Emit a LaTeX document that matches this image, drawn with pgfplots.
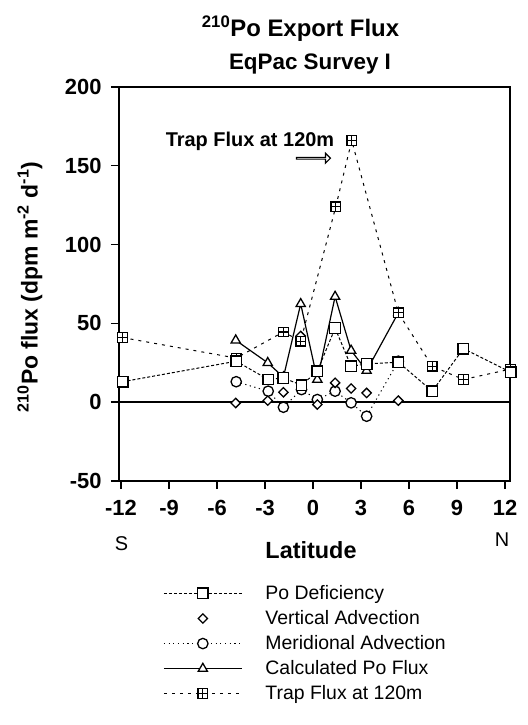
\documentclass[border=0pt]{standalone}
\usepackage{fontspec}
\setmainfont{Liberation Sans}
\usepackage{pgfplots}
\pgfplotsset{compat=1.18}
\usetikzlibrary{shapes.arrows}

% square with an inscribed cross, for the trap samples
\pgfdeclareplotmark{sqplus}{%
  \pgfpathrectangle{\pgfqpoint{-\pgfplotmarksize}{-\pgfplotmarksize}}{\pgfqpoint{2\pgfplotmarksize}{2\pgfplotmarksize}}%
  \pgfusepathqfillstroke
  \pgfpathmoveto{\pgfqpoint{-\pgfplotmarksize}{0pt}}\pgfpathlineto{\pgfqpoint{\pgfplotmarksize}{0pt}}%
  \pgfpathmoveto{\pgfqpoint{0pt}{-\pgfplotmarksize}}\pgfpathlineto{\pgfqpoint{0pt}{\pgfplotmarksize}}%
  \pgfusepathqstroke}

\newcommand{\fs}[1]{\fontsize{#1}{1.2\dimexpr#1pt\relax}\selectfont}

\pgfplotsset{
  widelegend/.style={legend image code/.code={\draw[mark repeat=2,mark phase=2,##1] plot coordinates {(0bp,0bp)(39bp,0bp)(78bp,0bp)};}},
  onemark/.style={legend image code/.code={\draw[##1] plot coordinates {(39bp,0bp)};}},
}

\begin{document}
\begin{tikzpicture}[x=1bp,y=1bp]
\begin{axis}[
  scale only axis, width=391bp, height=394bp,
  xmin=-12.125, xmax=12.31, ymin=-50, ymax=200,
  xtick={-12,-9,...,12}, ytick={-50,0,...,200},
  tick align=outside, xtick pos=bottom, ytick pos=left,
  major tick length=8bp,
  every tick/.style={black, line width=1.4bp},
  axis line style={line width=1.6bp},
  /pgf/number format/assume math mode=true,
  ticklabel style={font=\bfseries\fs{22}},
  xticklabel style={yshift=-8bp},
  yticklabel style={xshift=-6bp},
  clip=false,
  legend style={at={(0.105,-0.255)}, anchor=north west, draw=none, fill=none,
    font=\fs{19.5}, legend cell align=left, row sep=5.5bp,
    /tikz/every odd column/.append style={column sep=21bp}},
  widelegend,
]
% legend entries
\addlegendimage{black, line width=1bp, dash pattern=on 3bp off 2bp, mark=square*, mark size=5.3bp, mark options={solid, fill=white, line width=1.3bp}}
\addlegendentry{Po Deficiency}
\addlegendimage{only marks, onemark, black, mark=square*, mark size=3.3bp, mark options={rotate=45, fill=white, line width=1.3bp}}
\addlegendentry{Vertical Advection}
\addlegendimage{black, line width=1bp, dash pattern=on 1.2bp off 3.5bp, mark=*, mark size=5.2bp, mark options={solid, fill=white, line width=1.3bp}}
\addlegendentry{Meridional Advection}
\addlegendimage{black, line width=1.2bp, mark=triangle*, mark size=5.3bp, mark options={solid, fill=white, line width=1.3bp}}
\addlegendentry{Calculated Po Flux}
\addlegendimage{black, line width=1bp, dash pattern=on 3bp off 5bp, mark=sqplus, mark size=4.8bp, mark options={solid, fill=white, line width=1.2bp}}
\addlegendentry{Trap Flux at 120m}

% zero line
\addplot[forget plot, black, line width=1.4bp] coordinates {(-12.125,0) (12.31,0)};

% Meridional Advection
\addplot[forget plot, black, line width=1bp, dash pattern=on 1.2bp off 3.5bp, mark=*, mark size=5.2bp, mark options={solid, fill=white, line width=1.3bp}]
  coordinates {(-4.8,13) (-2.8,7) (-1.85,-3.2) (-0.72,8) (0.27,1.7) (1.38,7) (2.38,-0.4) (3.35,-8.9) (5.33,26)};

% Vertical Advection
\addplot[forget plot, only marks, black, mark=square*, mark size=3.3bp, mark options={rotate=45, fill=white, line width=1.3bp}]
  coordinates {(-4.83,-0.5) (-2.83,1) (-1.85,6.3) (-0.77,42) (0.27,-1.5) (1.38,12.3) (2.38,8.7) (3.35,5.9) (5.33,1)};

% Calculated Po Flux
\addplot[forget plot, black, line width=1.2bp, mark=triangle*, mark size=5.3bp, mark options={solid, fill=white, line width=1.3bp}]
  coordinates {(-4.83,39.3) (-2.83,25) (-1.85,15.9) (-0.77,62.4) (0.27,14.4) (1.38,67) (2.38,32.8) (3.35,20) (5.33,56.7)};

% Trap Flux at 120m
\addplot[forget plot, black, line width=1bp, dash pattern=on 3bp off 5bp, mark=sqplus, mark size=4.8bp, mark options={solid, fill=white, line width=1.2bp}]
  coordinates {(-11.9,41) (-4.8,28) (-1.85,44.6) (-0.77,38.7) (1.42,124) (2.42,166) (5.33,56.7) (7.45,22.8) (9.4,14.4) (12.35,21)};

% Po Deficiency
\addplot[forget plot, black, line width=1bp, dash pattern=on 3bp off 2bp, mark=square*, mark size=5.3bp, mark options={solid, fill=white, line width=1.3bp}]
  coordinates {(-11.9,13) (-4.8,26) (-2.8,14.4) (-1.85,15.4) (-0.72,10.8) (0.27,19.7) (1.38,47) (2.38,22.8) (3.35,24.3) (5.33,25.4) (7.45,7) (9.4,34) (12.35,19)};

% annotation of the trap peak
\node[font=\bfseries\fs{20}] at (axis cs:-3.94,165.3) {Trap Flux at 120m};
\node[single arrow, draw, line width=1.1bp, minimum height=34bp, minimum width=10bp,
  single arrow head extend=2.5bp, inner sep=0pt, fill=white] at (axis cs:0,154.8) {};
\end{axis}

% titles and axis labels
\node[font=\bfseries\fs{24}] at (181.5,452) {\textsuperscript{210}Po Export Flux};
\node[font=\bfseries\fs{22.5}] at (191,417) {EqPac Survey I};
\node[font=\bfseries\fs{23}, rotate=90] at (-89,194) {\textsuperscript{210}Po flux (dpm m\textsuperscript{-2} d\textsuperscript{-1})};
\node[font=\bfseries\fs{23.5}] at (192,-69) {Latitude};
\node[font=\fs{20}] at (2.5,-63) {S};
\node[font=\fs{20}] at (383,-59) {N};

\pgfresetboundingbox
\path[use as bounding box] (-119,-244) rectangle (409,481);
\end{tikzpicture}
\end{document}
